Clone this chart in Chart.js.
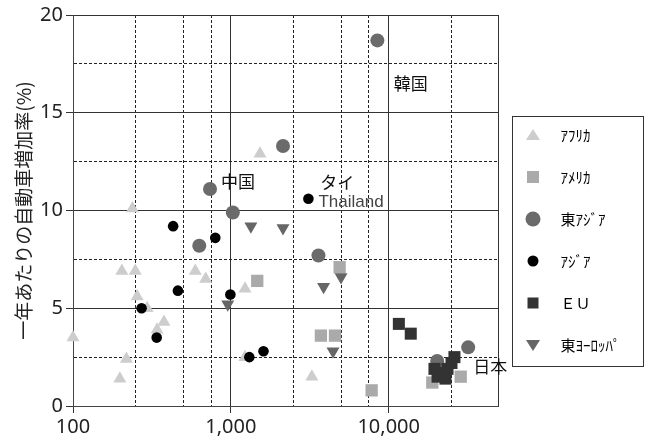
<!DOCTYPE html>
<html><head><meta charset="utf-8">
<script src="https://cdn.jsdelivr.net/npm/chart.js@4"></script>
<style>html,body{margin:0;padding:0;background:#fff}#wrap{width:648px;height:439px;position:relative}</style>
</head><body><div id="wrap"><canvas id="c" width="648" height="439"></canvas></div>
<script>
// ---- data ----
const seriesNames = ['ｱﾌﾘｶ', 'ｱﾒﾘｶ', '東ｱｼﾞｱ', 'ｱｼﾞｱ', 'ＥＵ', '東ﾖｰﾛｯﾊﾟ'];

const africaX = [238, 204, 248, 255, 295, 377, 341, 100, 218, 198, 595, 693, 1530, 1230, 1230, 3260];
const africaY = [10.1, 6.9, 6.9, 5.6, 5.0, 4.3, 3.9, 3.5, 2.4, 1.4, 6.9, 6.5, 12.9, 6.0, 2.5, 1.5];

const americaX = [1470, 3720, 4570, 4890, 7800, 18900, 28600];
const americaY = [6.4, 3.6, 3.6, 7.1, 0.8, 1.2, 1.5];

const eastAsiaX = [8480, 2140, 738, 1030, 3590, 631, 31900, 20300];
const eastAsiaY = [18.7, 13.3, 11.1, 9.9, 7.7, 8.2, 3.0, 2.3];

const asiaX = [431, 797, 462, 993, 272, 339, 1310, 1610, 3100];
const asiaY = [9.2, 8.6, 5.9, 5.7, 5.0, 3.5, 2.5, 2.8, 10.6];

const euX = [11600, 13800, 26100, 25000, 23600, 21600, 19500, 20400, 22900];
const euY = [4.2, 3.7, 2.5, 2.2, 1.9, 1.7, 1.9, 1.5, 1.4];

const eastEuropeX = [1340, 2140, 956, 3870, 4990, 4440];
const eastEuropeY = [9.2, 9.1, 5.2, 6.1, 6.6, 2.8];

const xTickValues = [100, 250, 500, 750, 1000, 2500, 5000, 7500, 10000, 25000, 50000];
const xLabelValues = [100, 1000, 10000];
const xLabelTexts = ['100', '1,000', '10,000'];
const xSolidValues = [1000, 10000, 50000];

const yTickValues = [0, 2.5, 5, 7.5, 10, 12.5, 15, 17.5, 20];
const yTickLabels = ['0', '', '5', '', '10', '', '15', '', '20'];

const annoText = ['韓国', '中国', 'タイ', 'Thailand', '日本'];
const annoX = [10760, 866, 3680, 3590, 34350];
const annoY = [16.5, 11.5, 11.45, 10.4, 2.0];

const yTitle = '一年あたりの自動車増加率(%)';

// ---- styles ----
const colors = ['#cdcdcd', '#aaaaaa', '#6b6b6b', '#000000', '#333333', '#666666'];
const styles = ['triangle', 'rect', 'circle', 'circle', 'rect', 'triangle'];
const rotations = [0, 0, 0, 0, 0, 180];
const radii = [7.5, 8.7, 7, 5.3, 8.5, 7.5];
const jp = '"Noto Sans CJK JP", "Noto Sans", sans-serif';

function pts(xs, ys) { return xs.map((x, i) => ({x: x, y: ys[i]})); }
const seriesData = [
  pts(africaX, africaY), pts(americaX, americaY), pts(eastAsiaX, eastAsiaY),
  pts(asiaX, asiaY), pts(euX, euY), pts(eastEuropeX, eastEuropeY)
];

// legend icons
function makeIcon(i) {
  const c = document.createElement('canvas');
  c.width = 18; c.height = 18;
  const g = c.getContext('2d');
  g.fillStyle = colors[i];
  g.beginPath();
  const cx = 9, cy = 9;
  if (i === 0) { g.moveTo(cx, cy - 6); g.lineTo(cx + 7, cy + 5); g.lineTo(cx - 7, cy + 5); g.closePath(); }
  else if (i === 1) { g.rect(cx - 6, cy - 6, 12, 12); }
  else if (i === 2) { g.arc(cx, cy, 7.5, 0, Math.PI * 2); }
  else if (i === 3) { g.arc(cx, cy, 5.5, 0, Math.PI * 2); }
  else if (i === 4) { g.rect(cx - 5.5, cy - 5.5, 11, 11); }
  else { g.moveTo(cx, cy + 6); g.lineTo(cx + 7, cy - 5); g.lineTo(cx - 7, cy - 5); g.closePath(); }
  g.fill();
  return c;
}
const icons = seriesNames.map((n, i) => makeIcon(i));

const legendFrame = {x: 512.5, y: 116.5, w: 131, h: 250};
const legendLeft = 486;

const framePlugin = {
  id: 'legendFrame',
  afterLayout(chart) {
    const lg = chart.legend;
    if (lg) { const w = lg.width; lg.left = legendLeft; lg.right = legendLeft + w; }
  },
  afterDraw(chart) {
    const ctx = chart.ctx;
    ctx.save();
    ctx.strokeStyle = '#333';
    ctx.lineWidth = 1;
    ctx.strokeRect(legendFrame.x, legendFrame.y, legendFrame.w, legendFrame.h);
    ctx.restore();
  }
};

const annoPlugin = {
  id: 'annos',
  afterDatasetsDraw(chart) {
    const ctx = chart.ctx, xs = chart.scales.x, ys = chart.scales.y;
    ctx.save();
    ctx.textAlign = 'left';
    ctx.textBaseline = 'middle';
    annoText.forEach((t, i) => {
      const latin = /^[A-Za-z]+$/.test(t);
      ctx.font = latin ? '17px "Liberation Sans", Arial, sans-serif' : '17px ' + jp;
      ctx.fillStyle = latin ? '#444' : '#111';
      ctx.fillText(t, xs.getPixelForValue(annoX[i]), ys.getPixelForValue(annoY[i]));
    });
    ctx.restore();
  }
};

new Chart(document.getElementById('c'), {
  type: 'scatter',
  data: {
    datasets: seriesNames.map((name, i) => ({
      label: name,
      data: seriesData[i],
      backgroundColor: colors[i],
      borderWidth: 0,
      pointStyle: styles[i],
      rotation: rotations[i],
      pointRadius: radii[i],
      pointHoverRadius: radii[i],
      order: -i,
      clip: false
    }))
  },
  options: {
    responsive: false,
    animation: false,
    events: [],
    layout: {padding: {top: 15, right: 4.5, bottom: 0, left: 0}},
    scales: {
      x: {
        type: 'logarithmic',
        min: 100, max: 50000,
        afterBuildTicks(scale) { scale.ticks = xTickValues.map(v => ({value: v})); },
        afterFit(scale) { scale.height = 33; },
        ticks: {
          autoSkip: false, maxRotation: 0, minRotation: 0, padding: 2,
          color: '#222',
          font: {family: '"Noto Sans", sans-serif', size: 20},
          callback(v) { const k = xLabelValues.indexOf(v); return k >= 0 ? xLabelTexts[k] : ''; }
        },
        grid: {
          color: ctx => (ctx.tick && xSolidValues.includes(ctx.tick.value)) ? '#333' : '#222',
          lineWidth: 1,
          tickLength: 7,
          tickColor: ctx => (ctx.tick && xLabelValues.includes(ctx.tick.value)) ? '#333' : 'rgba(0,0,0,0)'
        },
        border: {
          display: true, color: '#444', width: 1,
          dash: ctx => (ctx.tick && !xSolidValues.includes(ctx.tick.value) && !xLabelValues.includes(ctx.tick.value)) ? [3, 2] : []
        }
      },
      y: {
        type: 'linear',
        min: 0, max: 20,
        afterBuildTicks(scale) { scale.ticks = yTickValues.map(v => ({value: v})); },
        afterFit(scale) { scale.width = 73; },
        ticks: {
          autoSkip: false, padding: 3,
          color: '#222',
          font: {family: '"Noto Sans", sans-serif', size: 20},
          callback(v) { const k = yTickValues.indexOf(v); return k >= 0 ? yTickLabels[k] : ''; }
        },
        grid: {
          color: ctx => (ctx.tick && ctx.tick.value % 5 === 0) ? '#333' : '#222',
          lineWidth: 1,
          tickLength: 7,
          tickColor: ctx => (ctx.tick && ctx.tick.value % 5 === 0) ? '#333' : 'rgba(0,0,0,0)'
        },
        border: {
          display: true, color: '#444', width: 1,
          dash: ctx => (ctx.tick && ctx.tick.value % 5 !== 0) ? [3, 2] : []
        },
        title: {
          display: true, text: yTitle, color: '#222',
          font: {family: jp, size: 19},
          padding: {top: 12, bottom: 0}
        }
      }
    },
    plugins: {
      tooltip: {enabled: false},
      legend: {
        position: 'right',
        align: 'center',
        title: {display: true, text: ' ', font: {size: 10}, padding: {top: 7, bottom: 7}},
        labels: {
          usePointStyle: true,
          pointStyleWidth: 40,
          padding: 27,
          color: '#000',
          font: {family: jp, size: 15},
          sort: (a, b) => a.datasetIndex - b.datasetIndex,
          generateLabels(chart) {
            const items = Chart.defaults.plugins.legend.labels.generateLabels(chart);
            items.forEach(it => {
              it.pointStyle = icons[it.datasetIndex];
              it.rotation = 0;
              it.lineWidth = 0;
              it.strokeStyle = 'rgba(0,0,0,0)';
            });
            return items;
          }
        }
      }
    }
  },
  plugins: [framePlugin, annoPlugin]
});
</script>
</body></html>
